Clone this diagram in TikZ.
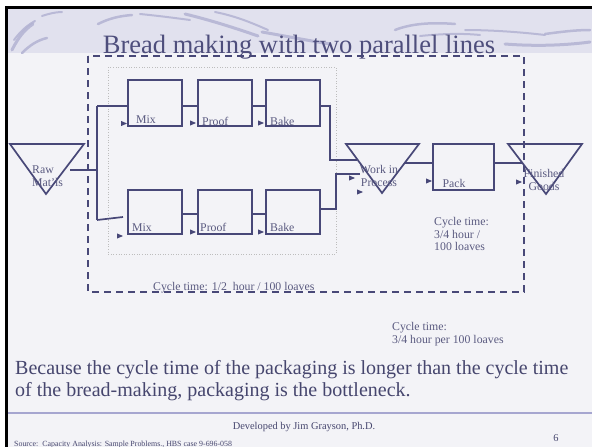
\documentclass[tikz,border=0pt]{standalone}
\usepackage{fontspec}
\setmainfont{Liberation Serif}
\definecolor{ln}{HTML}{484878}
\definecolor{tx}{HTML}{5A5A80}
\definecolor{tx2}{HTML}{46466E}
\definecolor{ttl}{HTML}{4E4E7C}
\definecolor{hdr}{HTML}{E1E1EE}
\definecolor{bgc}{HTML}{F3F3F7}
\definecolor{sw}{HTML}{B2B2D2}
\definecolor{sep}{HTML}{A6A6D0}
\definecolor{dotc}{HTML}{BDBDBD}
\tikzset{
  procbox/.style={draw=ln, line width=1.7pt, minimum width=54pt, minimum height=46pt, inner sep=0pt},
  lbl/.style={text=tx, font=\fontsize{11.8}{13}\selectfont, inner sep=0pt},
  conn/.style={draw=ln, line width=1.7pt},
  shp/.style={draw=ln, line width=1.7pt, line join=miter},
  swoosh/.style={draw=sw, line cap=round, opacity=0.85},
  note/.style={text=tx, font=\fontsize{11.8}{12.8}\selectfont, inner sep=0pt, align=left},
}
\newcommand\tipmark[1]{\fill[ln] #1 -- ++(-6,-2.6) -- ++(0,5.2) -- cycle;}
\begin{document}
\begin{tikzpicture}[x=1pt,y=-1pt]
\useasboundingbox (0,0) rectangle (592,447);
\fill[white] (0,0) rectangle (592,447);
\fill[bgc] (7,8) rectangle (592,447);
\fill[hdr] (7,8) rectangle (592,53);
% header swooshes
\draw[swoosh, line width=3] (12,50) .. controls (18,38) and (24,30) .. (33,24);
\draw[swoosh, line width=2.5] (22,53) .. controls (30,45) and (38,40) .. (47,38);
\draw[swoosh, line width=2] (14,40) .. controls (20,32) and (26,26) .. (35,21);
\draw[swoosh, line width=2] (42,16) .. controls (48,14) and (55,12) .. (62,12);
\draw[swoosh, line width=2.5] (98,24) .. controls (110,18) and (120,16) .. (132,15);
\draw[swoosh, line width=2] (140,14) .. controls (160,16) and (175,18) .. (190,20);
\draw[swoosh, line width=3] (185,14) .. controls (210,20) and (235,28) .. (258,36);
\draw[swoosh, line width=2] (215,12) .. controls (235,16) and (250,22) .. (268,30);
\draw[swoosh, line width=3] (262,32) .. controls (285,36) and (305,40) .. (330,44);
\draw[swoosh, line width=2.5] (395,30) .. controls (410,24) and (430,22) .. (455,24);
\draw[swoosh, line width=2] (420,36) .. controls (440,34) and (460,33) .. (480,35);
\draw[swoosh, line width=2] (465,30) .. controls (490,30) and (520,32) .. (545,35);
\draw[swoosh, line width=3] (505,44) .. controls (530,46) and (560,46) .. (590,42);
\draw[swoosh, line width=2.5] (545,34) .. controls (560,32) and (575,30) .. (590,30);
% border
\fill[black] (5,6) rectangle (592,9);
\fill[black] (5,6) rectangle (8,447);
% title
\node[text=ttl, font=\fontsize{26.5}{30}\selectfont, anchor=base, inner sep=0pt] (title) at (299,53) {Bread making with two parallel lines};
% outer dashed and inner dotted regions
\draw[ln, line width=1.8pt, dash pattern=on 7pt off 5pt] (88,56) rectangle (524,292);
\draw[dotc, line width=0.7pt, dash pattern=on 0.8pt off 1.8pt] (108,67) rectangle (336,254);
% process boxes
\node[procbox] (mix1) at (155,103) {};
\node[procbox] (proof1) at (225,103) {};
\node[procbox] (bake1) at (293,103) {};
\node[procbox, minimum height=44pt] (mix2) at (155,212) {};
\node[procbox, minimum height=44pt] (proof2) at (225,212) {};
\node[procbox, minimum height=44pt] (bake2) at (293,212) {};
\node[procbox, minimum width=61pt] (pack) at (463.5,167) {};
\node[lbl, anchor=base west] (mix1l) at (136,123) {Mix};
\node[lbl, anchor=base west] (proof1l) at (202,125) {Proof};
\node[lbl, anchor=base west] (bake1l) at (270,125) {Bake};
\node[lbl, anchor=base west] (mix2l) at (132,231) {Mix};
\node[lbl, anchor=base west] (proof2l) at (200,231) {Proof};
\node[lbl, anchor=base west] (bake2l) at (270,231) {Bake};
\node[lbl, anchor=base] (packl) at (454,187) {Pack};
% inventory triangles
\draw[shp] (10,144) -- (84,144) -- (46,194) -- cycle;
\draw[shp] (346,144) -- (419,144) -- (382,193) -- cycle;
\draw[shp] (508,144) -- (582,144) -- (546,194) -- cycle;
\node[lbl, anchor=west, align=left] (raw) at (32,176) {Raw\\Mat'ls};
\node[lbl, align=center] (wip) at (379,176) {Work in\\Process};
\node[lbl, align=center] (fg) at (544,180) {Finished\\Goods};
% connector points
\coordinate (rawR) at (70,170);
\coordinate (jv) at (97,170);
\coordinate (jt) at (97,106);
\coordinate (jb) at (97,220);
\coordinate (m2in) at (123,217);
\coordinate (yb) at (0,214);
\coordinate (c1) at (330,160);
\coordinate (w1) at (357,160);
\coordinate (yb2) at (0,209);
\coordinate (c2) at (336,174);
\coordinate (w2) at (360,174);
\coordinate (wout) at (405,163);
\coordinate (fgin) at (522,163);
% connectors
\draw[conn] (rawR) -- (jv);
\draw[conn] (jt) -- (jb);
\draw[conn] (jt) -- (mix1.west |- jt);
\draw[conn] (jb) -- (m2in);
\draw[conn] (mix1.east |- jt) -- (proof1.west |- jt);
\draw[conn] (proof1.east |- jt) -- (bake1.west |- jt);
\draw[conn] (mix2.east |- yb) -- (proof2.west |- yb);
\draw[conn] (proof2.east |- yb) -- (bake2.west |- yb);
\draw[conn] (bake1.east |- jt) -| (c1) -- (w1);
\draw[conn] (bake2.east |- yb2) -| (c2) -- (w2);
\draw[conn] (wout) -- (pack.west |- wout);
\draw[conn] (pack.east |- wout) -- (fgin);
% arrow tip marks
\tipmark{(127,123.5)}
\tipmark{(196,123)}
\tipmark{(264,123)}
\tipmark{(123,236)}
\tipmark{(196,232)}
\tipmark{(264,232)}
\tipmark{(355,178)}
\tipmark{(363,192)}
\tipmark{(432,181)}
\tipmark{(522,182)}
% cycle time notes
\node[note, anchor=north west] (ct1) at (434,217) {Cycle time:\\3/4 hour /\\100 loaves};
\node[note, anchor=base west] (ct2) at (153,290) {Cycle time: 1/2\ \ hour / 100 loaves};
\node[note, anchor=north west] (ct3) at (392,322) {Cycle time:\\3/4 hour per 100 loaves};
% conclusion
\node[text=tx2, font=\fontsize{20}{22}\selectfont, anchor=base west, inner sep=0pt] (concl1) at (15,374) {Because the cycle time of the packaging is longer than the cycle time};
\node[text=tx2, font=\fontsize{20}{22}\selectfont, anchor=base west, inner sep=0pt] (concl2) at (15,396) {of the bread-making, packaging is the bottleneck.};
% footer
\draw[sep, line width=2.5pt] (8,413) -- (592,413);
\node[text=tx2, font=\fontsize{10.4}{12}\selectfont, anchor=base, inner sep=0pt] (dev) at (304,429) {Developed by Jim Grayson, Ph.D.};
\node[text=tx2, font=\fontsize{7.9}{9}\selectfont, anchor=base west, inner sep=0pt] (src) at (14,446) {Source:\ \ Capacity Analysis: Sample Problems., HBS case 9-696-058};
\node[text=tx2, font=\fontsize{10.4}{12}\selectfont, anchor=base, inner sep=0pt] (pg) at (556,441) {6};
\end{tikzpicture}
\end{document}
